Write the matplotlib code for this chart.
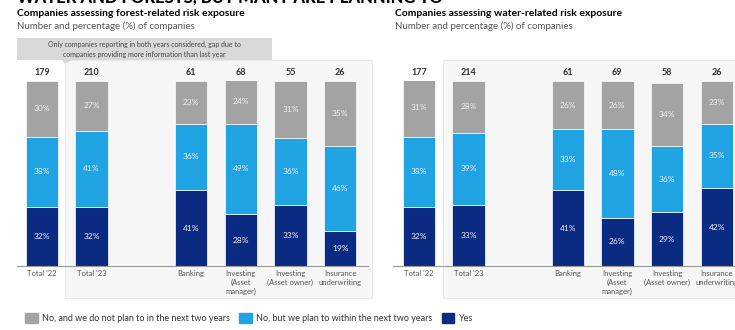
import matplotlib.pyplot as plt
from matplotlib.patches import Rectangle, Polygon

plt.rcParams['font.family'] = ['Lato', 'DejaVu Sans']

categories = ["Total '22", "Total '23", "Banking", "Investing\n(Asset\nmanager)",
              "Investing\n(Asset owner)", "Insurance\nunderwriting"]
positions = [0, 1, 3, 4, 5, 6]

# forest-related risk exposure
forest_n = [179, 210, 61, 68, 55, 26]
forest_no = [30, 27, 23, 24, 31, 35]
forest_plan = [38, 41, 36, 49, 36, 46]
forest_yes = [32, 32, 41, 28, 33, 19]

# water-related risk exposure
water_n = [177, 214, 61, 69, 58, 26]
water_no = [31, 28, 26, 26, 34, 23]
water_plan = [38, 39, 33, 48, 36, 35]
water_yes = [32, 33, 41, 26, 29, 42]

legend_labels = ["No, and we do not plan to in the next two years",
                 "No, but we plan to within the next two years", "Yes"]
colors = ["#a3a3a3", "#1fa3e3", "#0b2b82"]

W, H = 735, 330
fig = plt.figure(figsize=(7.35, 3.3), dpi=100)


def fx(px):
    return px / W


def fy(py):
    return 1 - py / H


# headline, cut off at the top edge
fig.text(fx(17), fy(2.5), "WATER AND FORESTS, BUT MANY ARE PLANNING TO",
         fontsize=12, fontweight='black', va='baseline', ha='left')

# shaded panels behind the 2023 bars
for x0, x1 in [(65, 372), (443, 740)]:
    fig.patches.append(Rectangle((fx(x0), fy(298)), fx(x1 - x0), (298 - 60) / H,
                                 transform=fig.transFigure, facecolor="#f6f6f6",
                                 edgecolor="#e6e6e6", lw=0.6, zorder=-2))

# callout box
fig.patches.append(Rectangle((fx(17), fy(60)), fx(272 - 17), 22 / H,
                             transform=fig.transFigure, facecolor="#d9d9d9",
                             edgecolor="none", zorder=-1))
fig.patches.append(Polygon([(fx(62), fy(60)), (fx(72), fy(60)), (fx(65), fy(64))],
                           transform=fig.transFigure, facecolor="#d9d9d9",
                           edgecolor="none", zorder=-1))
fig.text(fx(144), fy(49), "Only companies reporting in both years considered, gap due to\n"
         "companies providing more information than last year",
         fontsize=5, color="#444444", ha='center', va='center', linespacing=1.5)


def panel(ax, n, no, plan, yes, xlim):
    yes_b = [0] * len(yes)
    plan_b = yes
    no_b = [a + b for a, b in zip(yes, plan)]
    for vals, base, c in [(yes, yes_b, colors[2]), (plan, plan_b, colors[1]),
                          (no, no_b, colors[0])]:
        bars = ax.bar(positions, vals, bottom=base, width=0.65, color=c,
                      edgecolor='white', linewidth=0.5)
        for b, v in zip(bars, vals):
            ax.text(b.get_x() + b.get_width() / 2, b.get_y() + v / 2, f"{v}%",
                    ha='center', va='center', fontsize=6, color="#f0f0f0")
    for p, v in zip(positions, n):
        ax.text(p, 104.5, str(v), ha='center', va='center', fontsize=6.5,
                fontweight='bold', color="#333333")
    ax.set_xlim(*xlim)
    ax.set_ylim(0, 100)
    ax.set_facecolor('none')
    for s in ['top', 'right', 'left']:
        ax.spines[s].set_visible(False)
    ax.spines['bottom'].set_color("#9a9a9a")
    ax.spines['bottom'].set_linewidth(0.8)
    ax.set_yticks([])
    ax.set_xticks(positions)
    ax.set_xticklabels(categories, fontsize=5.5, color="#555555", linespacing=1.3)
    ax.tick_params(axis='x', length=0, pad=3)


ax1 = fig.add_axes([fx(17), 64 / H, fx(351), 185 / H])
ax2 = fig.add_axes([fx(393), 64 / H, fx(345), 185 / H])
panel(ax1, forest_n, forest_no, forest_plan, forest_yes, (-0.5, 6.56))
panel(ax2, water_n, water_no, water_plan, water_yes, (-0.52, 6.43))

for x, t in [(17, "Companies assessing forest-related risk exposure"),
             (395, "Companies assessing water-related risk exposure")]:
    fig.text(fx(x), fy(13), t, fontsize=7.5, fontweight='bold', va='center')
    fig.text(fx(x), fy(26), "Number and percentage (%) of companies", fontsize=7,
             color="#555555", va='center')

handles = [Rectangle((0, 0), 1, 1, color=c) for c in colors]
fig.legend(handles, legend_labels, loc='center left', bbox_to_anchor=(fx(17), fy(318)),
           ncol=3, frameon=False, fontsize=6.5, handlelength=1.4, handleheight=1.4,
           handletextpad=0.5, columnspacing=1.0, labelcolor="#333333")

fig.savefig("out.png", dpi=100)
